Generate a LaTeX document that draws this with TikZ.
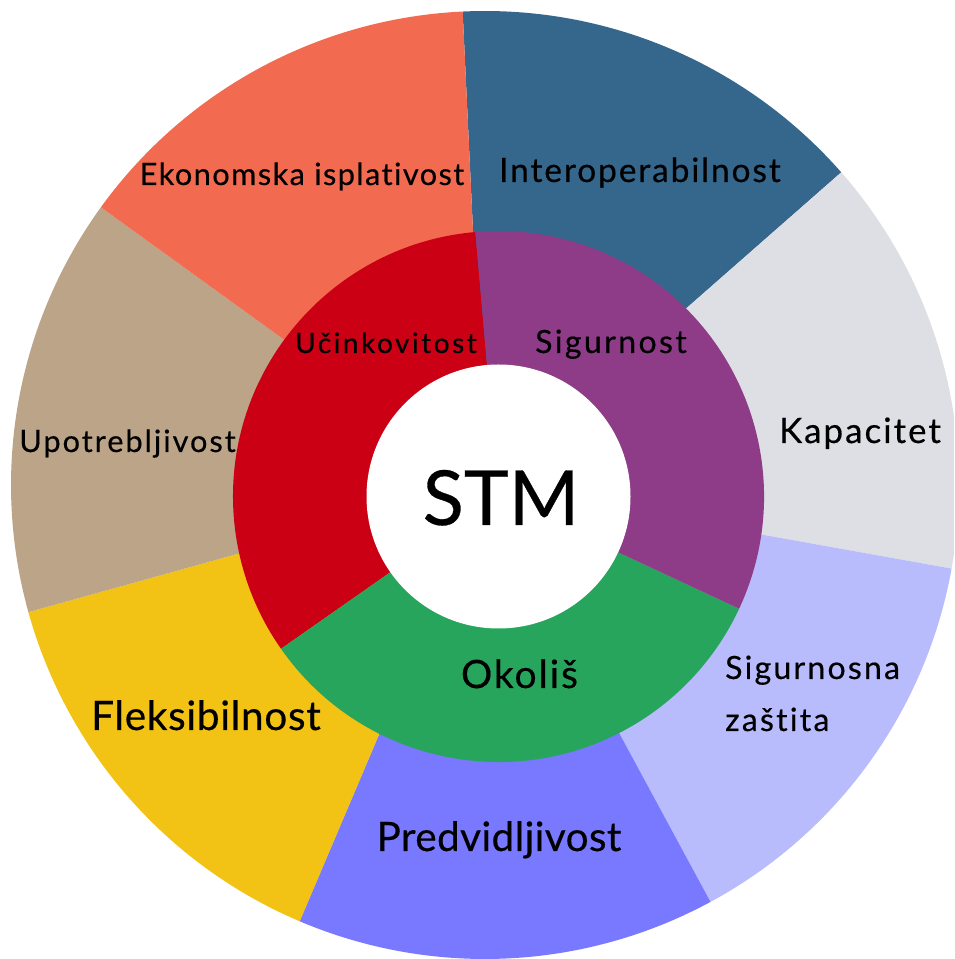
\documentclass[tikz,border=0pt]{standalone}
\usepackage{fontspec}
\setmainfont{Lato}[Ligatures=CommonOff]
\definecolor{cEko}{RGB}{242,106,80}
\definecolor{cInt}{RGB}{53,103,140}
\definecolor{cKap}{RGB}{222,223,228}
\definecolor{cSig}{RGB}{184,187,252}
\definecolor{cPre}{RGB}{120,121,254}
\definecolor{cFle}{RGB}{242,195,20}
\definecolor{cUpo}{RGB}{187,164,135}
\definecolor{cUci}{RGB}{204,0,20}
\definecolor{cSgr}{RGB}{142,60,135}
\definecolor{cOko}{RGB}{39,165,92}
\newcommand{\fsz}[2]{\fontsize{#1}{#1}\selectfont\addfontfeatures{LetterSpace=#2, FakeBold=0.4}}
\begin{document}
\begin{tikzpicture}[x=1pt,y=1pt,
  lbl/.style={text=black, inner sep=0pt, anchor=base}]
\useasboundingbox (0,0) rectangle (954,959);
\clip (0,0) rectangle (954,959);
\fill[white] (0,0) rectangle (954,959);
\coordinate (CO) at (485,474);
\coordinate (CI) at (498.5,462.5);
\def\Ro{474pt}
\def\Ri{265.5pt}
% outer ring: 7 sectors
\foreach \a/\col in {92.7/cInt, 41.27/cKap, -10.16/cSig, -61.59/cPre, -113.01/cFle, -164.44/cUpo, -215.87/cEko}{
  \fill[\col] (CO) -- ++(\a:\Ro) arc[start angle=\a, delta angle=-51.43, radius=\Ro] -- cycle;
}
% inner ring: 3 sectors
\fill[cUci] (CI) -- ++(95:\Ri) arc[start angle=95, end angle=215, radius=\Ri] -- cycle;
\fill[cOko] (CI) -- ++(215:\Ri) arc[start angle=215, end angle=335, radius=\Ri] -- cycle;
\fill[cSgr] (CI) -- ++(-25:\Ri) arc[start angle=-25, end angle=95, radius=\Ri] -- cycle;
\node[circle, fill=white, minimum size=264pt, inner sep=0pt] (hub) at (CI) {};
% labels
\node[lbl] (eko) at (302,774) {\fsz{30.7}{4.7}Ekonomska isplativost};
\node[lbl] (int) at (640,777) {\fsz{33.5}{5.6}Interoperabilnost};
\node[lbl] (kap) at (860,516) {\fsz{34.9}{5.8}Kapacitet};
\node[lbl, anchor=base west] (sig1) at (725,280) {\fsz{32}{7.0}Sigurnosna};
\node[lbl, anchor=base west] (sig2) at (725,228) {\fsz{32}{7.0}zaštita};
\node[lbl] (pre) at (499,108) {\fsz{40.5}{1.0}Predvidljivost};
\node[lbl] (fle) at (206,229) {\fsz{40.5}{1.8}Fleksibilnost};
\node[lbl] (upo) at (127.5,507) {\fsz{30.7}{6.5}Upotrebljivost};
\node[lbl] (uci) at (386,606) {\fsz{28}{9.0}Učinkovitost};
\node[lbl] (sgr) at (611,606) {\fsz{32}{7.5}Sigurnost};
\node[lbl] (oko) at (519.5,271) {\fsz{39}{5.0}Okoliš};
\node[lbl] (stm) at (501,434) {\fsz{76}{0}STM};
\end{tikzpicture}
\end{document}
